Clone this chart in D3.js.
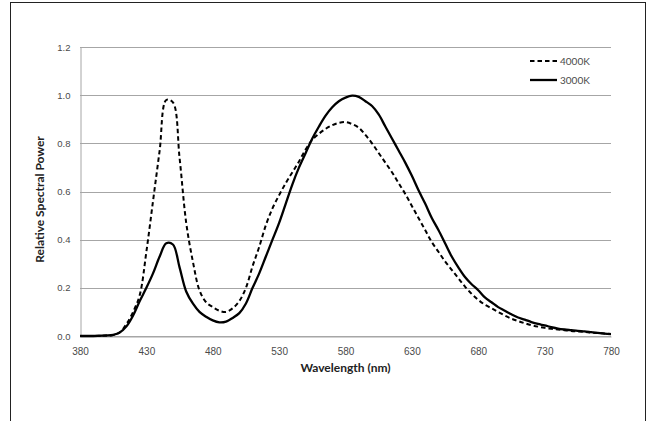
<!DOCTYPE html>
<html>
<head>
<meta charset="utf-8">
<script src="https://cdn.jsdelivr.net/npm/d3@7"></script>
<style>
  body { margin: 0; background: #fff; }
  svg { font-family: Lato, "Open Sans", sans-serif; }
</style>
</head>
<body>
<div id="chart"></div>
<script>
// Wavelength samples (nm), 5 nm steps
const wavelengths = d3.range(380, 781, 5);

// Relative spectral power
const power4000K = [
  0.0, 0.0, 0.0, 0.001, 0.002, 0.004, 0.015, 0.05, 0.10, 0.17,
  0.35, 0.56, 0.77, 0.98, 0.97, 0.74, 0.47, 0.31, 0.19, 0.14,
  0.12, 0.105, 0.10, 0.115, 0.145, 0.20, 0.29, 0.37, 0.46, 0.53,
  0.585, 0.635, 0.68, 0.725, 0.775, 0.815, 0.84, 0.86, 0.875, 0.885,
  0.888, 0.88, 0.865, 0.835, 0.80, 0.76, 0.72, 0.68, 0.635, 0.59,
  0.54, 0.49, 0.44, 0.39, 0.35, 0.31, 0.275, 0.24, 0.205, 0.175,
  0.15, 0.13, 0.115, 0.10, 0.085, 0.072, 0.062, 0.053, 0.045, 0.039,
  0.034, 0.03, 0.027, 0.024, 0.021, 0.019, 0.017, 0.014, 0.012, 0.01,
  0.008
];
const power3000K = [
  0.0, 0.0, 0.0, 0.001, 0.002, 0.005, 0.015, 0.04, 0.085, 0.145,
  0.20, 0.26, 0.33, 0.385, 0.38, 0.285, 0.185, 0.135, 0.10, 0.08,
  0.065, 0.057, 0.06, 0.075, 0.095, 0.135, 0.20, 0.26, 0.33, 0.40,
  0.47, 0.55, 0.63, 0.70, 0.76, 0.82, 0.87, 0.915, 0.95, 0.975,
  0.99, 0.998, 0.993, 0.975, 0.955, 0.92, 0.87, 0.82, 0.77, 0.72,
  0.665, 0.605, 0.55, 0.49, 0.44, 0.385, 0.33, 0.285, 0.245, 0.215,
  0.19, 0.16, 0.14, 0.12, 0.105, 0.09, 0.077, 0.068, 0.058, 0.05,
  0.044, 0.037, 0.031, 0.027, 0.024, 0.021, 0.019, 0.016, 0.013, 0.01,
  0.008
];

const xTicks = d3.range(380, 781, 50);
const yTicks = [0, 0.2, 0.4, 0.6, 0.8, 1.0, 1.2];
const seriesNames = ["4000K", "3000K"];

// Chart dimensions
const width = 647, height = 421;
const margin = { top: 47, right: 36, bottom: 85, left: 80 };
const innerW = width - margin.left - margin.right;
const innerH = height - margin.top - margin.bottom;

const svg = d3.select("#chart")
  .append("svg")
  .attr("width", width)
  .attr("height", height);

// Outer frame
svg.append("rect")
  .attr("x", 10.5).attr("y", 2.5)
  .attr("width", 635).attr("height", 440)
  .attr("fill", "none")
  .attr("stroke", "#222")
  .attr("stroke-width", 1);

const g = svg.append("g")
  .attr("transform", `translate(${margin.left},${margin.top})`);

const xScale = d3.scaleLinear().domain([380, 780]).range([0, innerW]);
const yScale = d3.scaleLinear().domain([0, 1.2]).range([innerH, 0]);

// Horizontal grid lines
g.selectAll(".yGrid")
  .data(yTicks)
  .enter()
  .append("line")
  .attr("x1", 0)
  .attr("x2", innerW)
  .attr("y1", d => Math.round(yScale(d)) + 0.5)
  .attr("y2", d => Math.round(yScale(d)) + 0.5)
  .attr("stroke", "#a6a6a6")
  .attr("stroke-width", 1);

// Y axis
const yAxis = g.append("g")
  .attr("transform", "translate(0.5,0)")
  .call(d3.axisLeft(yScale).tickValues(yTicks).tickFormat(d3.format(".1f")).tickSize(0).tickPadding(10));
yAxis.select(".domain").attr("stroke", "#a6a6a6");
yAxis.selectAll("text").attr("font-size", 9.5).attr("fill", "#4a4a4a");

// X axis
const xAxis = g.append("g")
  .attr("transform", `translate(0,${Math.round(innerH) + 0.5})`)
  .call(d3.axisBottom(xScale).tickValues(xTicks).tickSize(0).tickPadding(11));
xAxis.select(".domain").attr("stroke", "#a6a6a6");
xAxis.selectAll("text").attr("font-size", 10).attr("fill", "#4a4a4a");

// Axis titles
svg.append("text")
  .attr("x", margin.left + innerW / 2)
  .attr("y", 372)
  .attr("text-anchor", "middle")
  .attr("font-size", 12)
  .attr("font-weight", "bold")
  .attr("fill", "#222")
  .text("Wavelength (nm)");

svg.append("text")
  .attr("transform", `translate(44,${margin.top + innerH / 2 + 8}) rotate(-90)`)
  .attr("text-anchor", "middle")
  .attr("font-size", 12)
  .attr("font-weight", "bold")
  .attr("fill", "#222")
  .text("Relative Spectral Power");

// Line generator
const line = d3.line()
  .x((d, i) => xScale(wavelengths[i]))
  .y(d => yScale(d))
  .curve(d3.curveCatmullRom.alpha(0.5));

const styles = {
  "4000K": { data: power4000K, dash: "4.5,3", width: 2 },
  "3000K": { data: power3000K, dash: null, width: 2.3 }
};

seriesNames.forEach(name => {
  g.append("path")
    .datum(styles[name].data)
    .attr("fill", "none")
    .attr("stroke", "#000")
    .attr("stroke-width", styles[name].width)
    .attr("stroke-dasharray", styles[name].dash)
    .attr("d", line);
});

// Legend
const legend = svg.append("g").attr("transform", "translate(530,61)");
seriesNames.forEach((name, i) => {
  const item = legend.append("g").attr("transform", `translate(0,${i * 19})`);
  item.append("line")
    .attr("x1", 0).attr("x2", 27)
    .attr("stroke", "#000")
    .attr("stroke-width", styles[name].width)
    .attr("stroke-dasharray", styles[name].dash);
  item.append("text")
    .attr("x", 30)
    .attr("y", 3.5)
    .attr("font-size", 10)
    .attr("fill", "#4a4a4a")
    .text(name);
});
</script>
</body>
</html>
